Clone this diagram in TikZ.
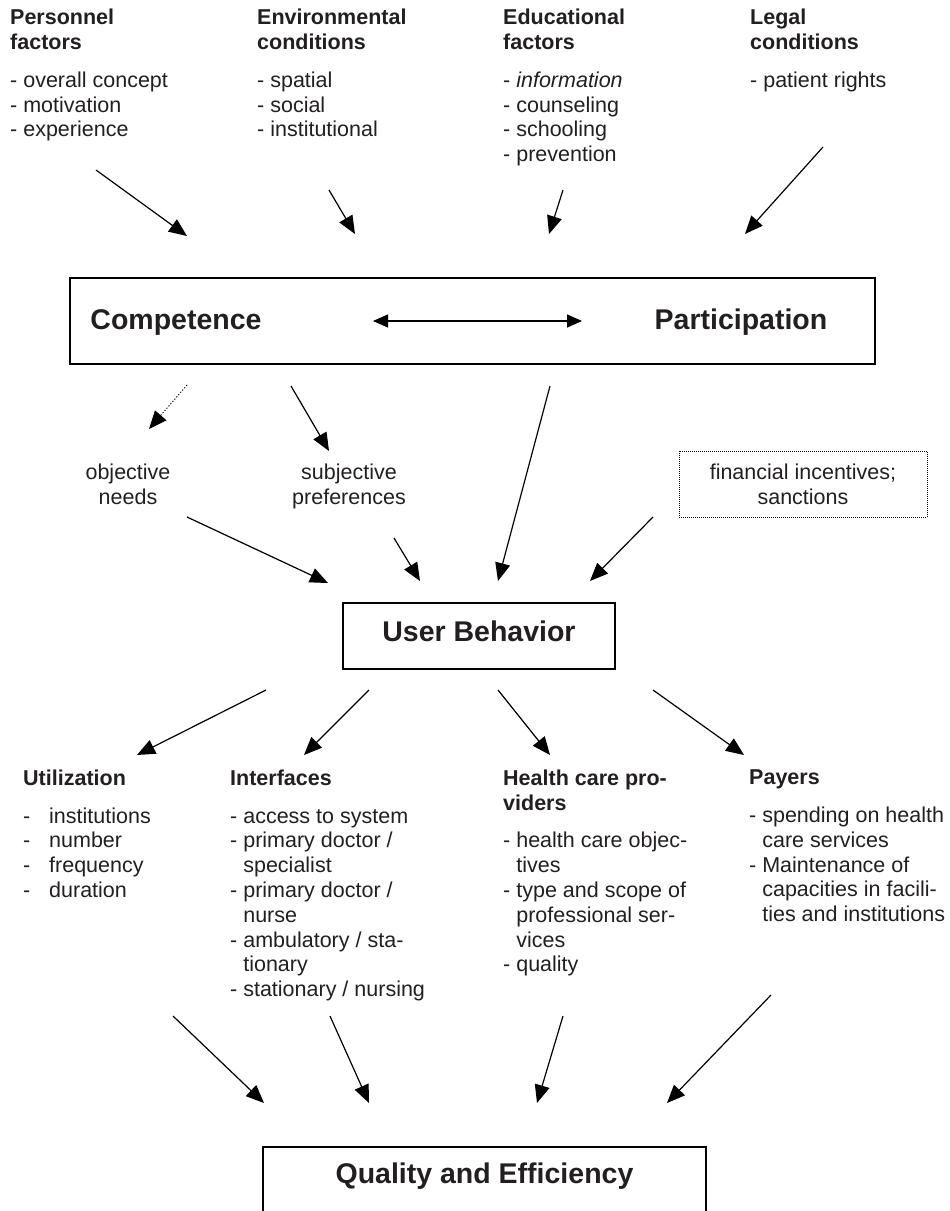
\documentclass[tikz,border=0pt]{standalone}
\usepackage{fontspec}
\setmainfont{Liberation Sans}
\usetikzlibrary{arrows.meta}
\definecolor{ink}{HTML}{231F20}
\newcommand{\bodyfont}{\fontsize{21.5}{24.8}\selectfont}
\newcommand{\boxfont}{\fontsize{28.5}{32}\selectfont\bfseries}
\newcommand{\hang}{\hphantom{-\ }}
\newcommand{\dashitem}{\makebox[26pt][l]{-}}
\tikzset{
  arr/.style={-{Triangle[length=18pt,width=15pt]}, line width=1.2pt, draw=black},
  arrboth/.style={arr, {Triangle[length=15pt,width=13pt]}-{Triangle[length=15pt,width=13pt]}},
  arrdot/.style={arr, line width=0.9pt, dash pattern=on 1.2pt off 1.8pt},
  factor/.style={anchor=north west, align=left, inner sep=0pt, font=\bodyfont, text=ink},
  note/.style={anchor=north, align=center, inner sep=0pt, font=\bodyfont, text=ink},
  mainbox/.style={draw=black, line width=1.5pt, inner sep=0pt},
  boxlabel/.style={anchor=base, inner sep=0pt, font=\boxfont, text=ink},
  dotbox/.style={draw=black, line width=1pt, dash pattern=on 1pt off 1pt, align=center, inner sep=0pt, font=\bodyfont, text=ink}
}
\begin{document}
\begin{tikzpicture}[x=1pt, y=-1pt]
  \useasboundingbox (0,0) rectangle (950,1211);

  % factors acting on competence and participation
  \node[factor] (personnel) at (10,9) {\textbf{Personnel}\\\textbf{factors}\\[13pt]- overall concept\\- motivation\\- experience};
  \node[factor] (environ) at (257,9) {\textbf{Environmental}\\\textbf{conditions}\\[13pt]- spatial\\- social\\- institutional};
  \node[factor] (educ) at (503,9) {\textbf{Educational}\\\textbf{factors}\\[13pt]- \textit{information}\\- counseling\\- schooling\\- prevention};
  \node[factor] (legal) at (750,9) {\textbf{Legal}\\\textbf{conditions}\\[13pt]- patient rights};

  \coordinate (pers-out) at (96,170);   \coordinate (pers-in) at (187,236);
  \coordinate (env-out) at (329,190);   \coordinate (env-in) at (355,234);
  \coordinate (edu-out) at (563,190);   \coordinate (edu-in) at (549,234);
  \coordinate (leg-out) at (823,147);   \coordinate (leg-in) at (745,234);
  \draw[arr] (pers-out) -- (pers-in);
  \draw[arr] (env-out) -- (env-in);
  \draw[arr] (edu-out) -- (edu-in);
  \draw[arr] (leg-out) -- (leg-in);

  % competence <-> participation
  \node[mainbox, minimum width=805pt, minimum height=86pt] (cp) at (472.5,321) {};
  \node[boxlabel] (comp) at (176,329) {Competence};
  \node[boxlabel] (part) at (741,329) {Participation};
  \coordinate (cp-l) at (373,321);
  \coordinate (cp-r) at (582,321);
  \draw[arrboth] (cp-l) -- (cp-r);

  % needs, preferences, incentives
  \node[note] (needs) at (128,463.6) {objective\\needs};
  \node[note] (prefs) at (349,463.6) {subjective\\preferences};
  \node[dotbox, minimum width=248pt, minimum height=66pt] (incent) at (803,484) {financial incentives;\\sanctions};

  \coordinate (cp-needs) at (187,385);  \coordinate (needs-top) at (149,429);
  \coordinate (cp-prefs) at (291,386);  \coordinate (prefs-top) at (329,451);
  \coordinate (cp-ub) at (550,386);
  \coordinate (needs-out) at (187,517); \coordinate (ub-in1) at (328,583);
  \coordinate (prefs-out) at (394,538); \coordinate (ub-in2) at (420,581);
  \coordinate (ub-in3) at (498,581);
  \coordinate (incent-out) at (653,517); \coordinate (ub-in4) at (590,581);
  \draw[arrdot] (cp-needs) -- (needs-top);
  \draw[arr] (cp-prefs) -- (prefs-top);
  \draw[arr] (cp-ub) -- (ub-in3);
  \draw[arr] (needs-out) -- (ub-in1);
  \draw[arr] (prefs-out) -- (ub-in2);
  \draw[arr] (incent-out) -- (ub-in4);

  % user behavior
  \node[mainbox, minimum width=272pt, minimum height=66pt, font=\boxfont, text=ink, text depth=10pt] (ub) at (479,636) {User Behavior};

  \coordinate (ub-o1) at (266,690);  \coordinate (util-in) at (137,755);
  \coordinate (ub-o2) at (369,690);  \coordinate (intf-in) at (304,755);
  \coordinate (ub-o3) at (498,690);  \coordinate (prov-in) at (550,755);
  \coordinate (ub-o4) at (653,690);  \coordinate (pay-in) at (744,755);
  \draw[arr] (ub-o1) -- (util-in);
  \draw[arr] (ub-o2) -- (intf-in);
  \draw[arr] (ub-o3) -- (prov-in);
  \draw[arr] (ub-o4) -- (pay-in);

  % fields affected by user behavior
  \node[factor] (util) at (23,769.6) {\textbf{Utilization}\\[13pt]\dashitem institutions\\\dashitem number\\\dashitem frequency\\\dashitem duration};
  \node[factor] (intf) at (230,769.6) {\textbf{Interfaces}\\[13pt]- access to system\\- primary doctor /\\\hang specialist\\- primary doctor /\\\hang nurse\\- ambulatory / sta-\\\hang tionary\\- stationary / nursing};
  \node[factor] (prov) at (503,769.6) {\textbf{Health care pro-}\\\textbf{viders}\\[13pt]- health care objec-\\\hang tives\\- type and scope of\\\hang professional ser-\\\hang vices\\- quality};
  \node[factor] (pay) at (749,769.6) {\textbf{Payers}\\[13pt]- spending on health\\\hang care services\\- Maintenance of\\\hang capacities in facili-\\\hang ties and institutions};

  \coordinate (util-out) at (173,1016); \coordinate (qe-in1) at (264,1103);
  \coordinate (intf-out) at (330,1016); \coordinate (qe-in2) at (369,1103);
  \coordinate (prov-out) at (563,1016); \coordinate (qe-in3) at (537,1103);
  \coordinate (pay-out) at (771,995);   \coordinate (qe-in4) at (667,1103);
  \draw[arr] (util-out) -- (qe-in1);
  \draw[arr] (intf-out) -- (qe-in2);
  \draw[arr] (prov-out) -- (qe-in3);
  \draw[arr] (pay-out) -- (qe-in4);

  % outcome, box runs off the lower edge
  \node[mainbox, anchor=north, minimum width=443pt, inner ysep=16pt, font=\boxfont, text=ink, text depth=60pt] (qe) at (484.5,1146) {Quality and Efficiency};
\end{tikzpicture}
\end{document}
